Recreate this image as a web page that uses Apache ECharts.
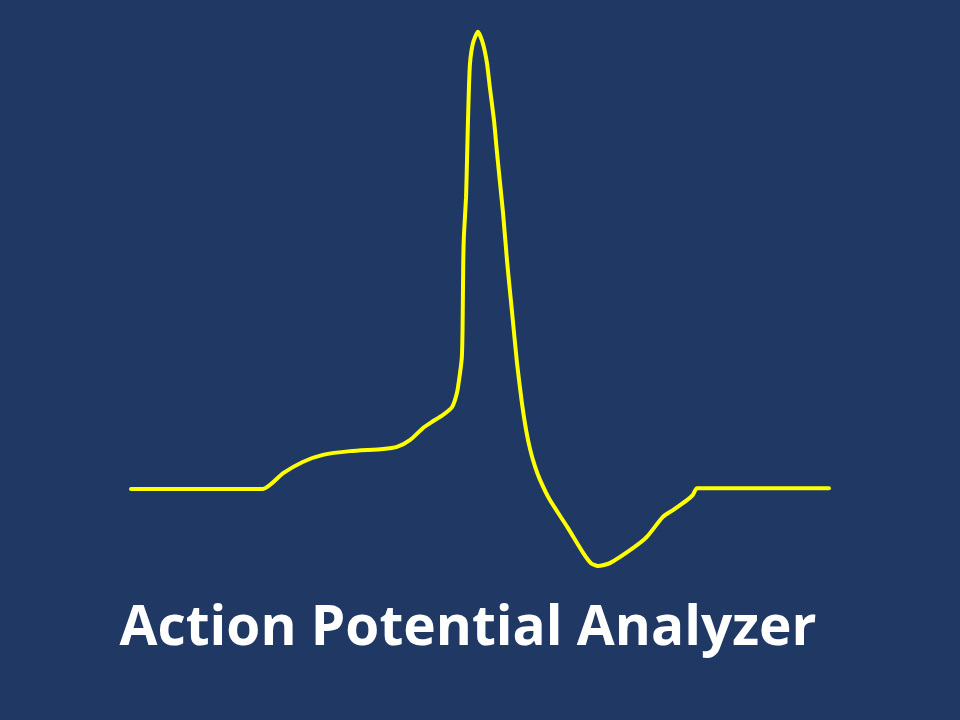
<!DOCTYPE html>
<html>
<head>
<meta charset="utf-8">
<script src="https://cdn.jsdelivr.net/npm/echarts@6/dist/echarts.min.js"></script>
<style>
html,body{margin:0;padding:0;background:#203864;}
#chart{width:960px;height:720px;}
</style>
</head>
<body>
<div id="chart"></div>
<script>
// time in ms
var timeMs = [0, 1.89, 2.18, 2.46, 2.75, 3.14, 3.61, 3.81, 4.00, 4.18, 4.31, 4.47, 4.60, 4.67, 4.71, 4.74, 4.75, 4.76, 4.77, 4.80, 4.814, 4.828, 4.842, 4.857, 4.90, 4.97,
  5.04, 5.10, 5.14, 5.20, 5.24, 5.29, 5.33, 5.39, 5.46, 5.53, 5.60, 5.66, 5.72, 5.79, 5.86, 6.00, 6.25, 6.48, 6.59, 6.69, 6.86, 7.19, 7.39, 7.62, 7.77, 7.97, 8.05, 8.11, 10.0];
// membrane potential in mV
var voltageMv = [-70, -70, -66.2, -63.5, -61.8, -60.9, -60.4, -59.9, -58.2, -55.4, -53.9, -52.2, -50.3, -46.9, -42.6, -38.3, -31.8, -15.7, -9.0, 0.1, 9.0, 18.6, 26.6, 32.3, 37.1, 39.8,
  37.1, 32.3, 26.6, 18.6, 11.4, 3.0, -3.7, -15.7, -27.7, -39.7, -49.3, -55.8, -60.6, -64.7, -67.8, -72.6, -79.1, -85.4, -87.8, -88.5, -87.8, -84.2, -81.5, -76.7, -75.0, -72.6, -71.4, -69.8, -69.8];
var titleText = 'Action Potential Analyzer';

var seriesData = timeMs.map(function (t, i) { return [t, voltageMv[i]]; });

var chart = echarts.init(document.getElementById('chart'), null, {renderer: 'canvas'});
chart.setOption({
  backgroundColor: '#203864',
  animation: false,
  title: {
    text: titleText,
    left: 463,
    top: 597,
    textAlign: 'center',
    textStyle: {
      color: '#ffffff',
      fontFamily: 'Open Sans',
      fontWeight: 'bold',
      fontSize: 55
    }
  },
  grid: {left: 131, right: 131, top: 31, bottom: 147.7},
  xAxis: {
    type: 'value', min: 0, max: 10,
    show: false
  },
  yAxis: {
    type: 'value', min: -90, max: 40,
    show: false
  },
  series: [{
    type: 'line',
    data: seriesData,
    showSymbol: false,
    smooth: 0.2,
    lineStyle: {color: '#ffff00', width: 4, cap: 'round', join: 'round'}
  }]
});
</script>
</body>
</html>
